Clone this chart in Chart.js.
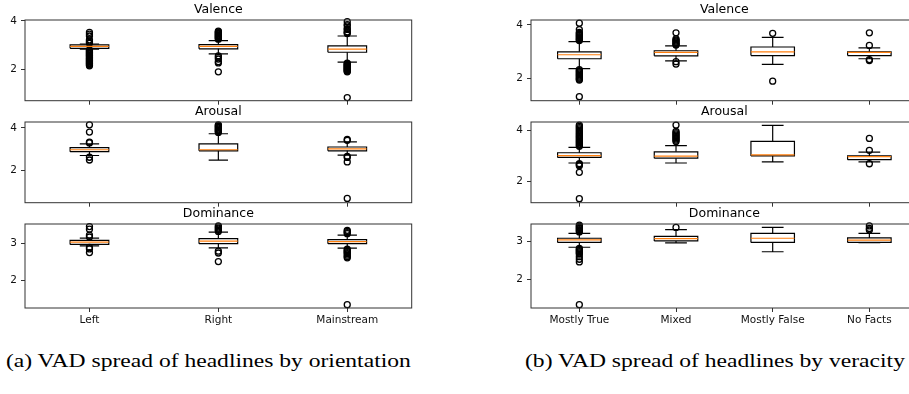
<!DOCTYPE html>
<html>
<head>
<meta charset="utf-8">
<script src="https://cdn.jsdelivr.net/npm/chart.js@4.4.0/dist/chart.umd.min.js"></script>
<style>
  body { margin: 0; background: #fff; }
  #fig { position: relative; width: 909px; height: 394px; overflow: hidden; background: #fff; }
  #fig canvas { position: absolute; }
  .cap { position: absolute; top: 351px; font-family: "Liberation Serif", "Times New Roman", serif; font-size: 19px; line-height: 19px; color: #000; white-space: nowrap; transform: scaleX(1.24); transform-origin: left center; }
</style>
</head>
<body>
<div id="fig">
  <div class="cap" style="left:6px">(a) VAD spread of headlines by orientation</div>
  <div class="cap" style="left:525px">(b) VAD spread of headlines by veracity</div>
</div>
<script>
// categories
const orientCats = ['Left', 'Right', 'Mainstream'];
const veracityCats = ['Mostly True', 'Mixed', 'Mostly False', 'No Facts'];

// y tick labels
const ticksVA = [2, 4];
const ticksD = [2, 3];

// box stats per category: [lower whisker, q1, median, q3, upper whisker]
const valenceOrient = [[2.84, 2.87, 2.95, 3.01, 3.05], [2.64, 2.85, 2.95, 3.02, 3.19], [2.30, 2.71, 2.84, 2.97, 3.38]];
const arousalOrient = [[2.71, 2.89, 2.98, 3.08, 3.26], [2.49, 2.93, 2.98, 3.26, 3.73], [2.73, 2.93, 3.02, 3.11, 3.35]];
const dominanceOrient = [[2.93, 2.97, 3.03, 3.08, 3.14], [2.88, 2.99, 3.06, 3.125, 3.30], [2.87, 2.99, 3.045, 3.10, 3.22]];

const valenceVerac = [[2.36, 2.73, 2.88, 2.99, 3.37], [2.65, 2.84, 2.97, 3.03, 3.21], [2.52, 2.85, 2.99, 3.17, 3.53], [2.73, 2.85, 2.97, 2.99, 3.14]];
const arousalVerac = [[2.72, 2.94, 3.01, 3.125, 3.34], [2.72, 2.91, 2.99, 3.16, 3.41], [2.76, 3.0, 3.04, 3.575, 4.21], [2.76, 2.85, 2.975, 3.0, 3.15]];
const dominanceVerac = [[2.85, 2.98, 3.045, 3.09, 3.22], [2.965, 3.02, 3.08, 3.14, 3.32], [2.73, 2.98, 3.09, 3.22, 3.38], [2.97, 2.98, 3.04, 3.10, 3.22]];

// outliers per category
const valenceOrientFliers = [
  [3.53, 3.46, 3.38, 3.22, 3.17, 3.12, 3.08, 2.81, 2.78, 2.75, 2.72, 2.69, 2.66, 2.63, 2.60, 2.57, 2.54, 2.51, 2.48, 2.45, 2.42, 2.39, 2.36, 2.33, 2.30, 2.27, 2.24, 2.21, 2.18, 2.15],
  [3.58, 3.55, 3.52, 3.49, 3.46, 3.43, 3.40, 3.37, 3.34, 3.31, 3.28, 3.25, 2.56, 2.50, 2.43, 2.32, 2.27, 1.90],
  [3.97, 3.85, 3.80, 3.68, 3.65, 3.55, 3.52, 3.48, 2.26, 2.23, 2.20, 2.17, 2.14, 2.11, 2.08, 2.05, 2.02, 1.99, 1.96, 1.93, 1.90, 0.84]
];
const arousalOrientFliers = [
  [4.15, 3.81, 3.34, 3.30, 2.63, 2.50],
  [4.15, 4.11, 4.07, 4.03, 3.99, 3.95, 3.91, 3.87, 3.83, 3.79],
  [3.46, 3.42, 2.67, 2.62, 2.41, 0.70]
];
const dominanceOrientFliers = [
  [3.45, 3.38, 3.22, 3.17, 2.89, 2.85, 2.75],
  [3.47, 3.44, 3.41, 3.38, 3.35, 3.32, 2.79, 2.74, 2.51],
  [3.35, 3.32, 3.29, 3.26, 2.84, 2.81, 2.78, 2.75, 2.72, 2.68, 2.64, 2.61, 1.35]
];
const valenceVeracFliers = [
  [4.06, 3.82, 3.72, 3.68, 3.64, 3.60, 3.56, 3.52, 3.48, 3.44, 3.41, 2.32, 2.28, 2.24, 2.20, 2.16, 2.12, 2.08, 2.04, 2.00, 1.96, 1.93, 1.31],
  [3.70, 3.47, 3.43, 3.39, 3.35, 3.31, 3.27, 3.24, 2.62, 2.53],
  [3.68, 1.89],
  [3.70, 3.23, 2.70, 2.66]
];
const arousalVeracFliers = [
  [4.22, 4.17, 4.12, 4.07, 4.02, 3.97, 3.92, 3.87, 3.82, 3.77, 3.72, 3.67, 3.62, 3.57, 3.52, 3.47, 3.42, 3.38, 2.69, 2.65, 2.61, 2.35, 1.31],
  [4.22, 3.97, 3.92, 3.87, 3.82, 3.77, 3.72, 3.67, 3.62, 3.57],
  [],
  [3.69, 3.22, 2.69]
];
const dominanceVeracFliers = [
  [3.44, 3.41, 3.38, 3.35, 3.32, 3.29, 3.26, 2.82, 2.79, 2.76, 2.73, 2.70, 2.67, 2.60, 2.53, 2.46, 1.32],
  [3.38],
  [],
  [3.42, 3.35, 3.31]
];

const panels = [
  { left: 0, top: 2, w: 417, h: 109, yW: 25, xH: 6, title: 'Valence', cats: orientCats, boxes: valenceOrient, fliers: valenceOrientFliers, yMin: 0.71, yMax: 4.04, yTicks: ticksVA, half: 0.15 },
  { left: 0, top: 104, w: 417, h: 109, yW: 25, xH: 6, title: 'Arousal', cats: orientCats, boxes: arousalOrient, fliers: arousalOrientFliers, yMin: 0.5, yMax: 4.28, yTicks: ticksVA, half: 0.15 },
  { left: 0, top: 206, w: 417, h: 132, yW: 25, xH: 30, title: 'Dominance', cats: orientCats, boxes: dominanceOrient, fliers: dominanceOrientFliers, yMin: 1.26, yMax: 3.52, yTicks: ticksD, half: 0.15, showX: true },
  { left: 491, top: 2, w: 432, h: 109, yW: 40, xH: 6, title: 'Valence', cats: veracityCats, boxes: valenceVerac, fliers: valenceVeracFliers, yMin: 1.16, yMax: 4.18, yTicks: ticksVA, half: 0.225 },
  { left: 491, top: 104, w: 432, h: 109, yW: 40, xH: 6, title: 'Arousal', cats: veracityCats, boxes: arousalVerac, fliers: arousalVeracFliers, yMin: 1.15, yMax: 4.34, yTicks: ticksVA, half: 0.225 },
  { left: 491, top: 206, w: 432, h: 132, yW: 40, xH: 30, title: 'Dominance', cats: veracityCats, boxes: dominanceVerac, fliers: dominanceVeracFliers, yMin: 1.23, yMax: 3.47, yTicks: ticksD, half: 0.225, showX: true }
];

const font = { family: 'DejaVu Sans', size: 10.5 };

// axes frame on all four sides
const framePlugin = {
  id: 'frame',
  afterDatasetsDraw(chart) {
    const { ctx, chartArea: a } = chart;
    ctx.save();
    ctx.strokeStyle = '#333';
    ctx.lineWidth = 1;
    ctx.strokeRect(a.left, a.top, a.right - a.left, a.bottom - a.top);
    ctx.restore();
  }
};

function lineSet(data, color) {
  return {
    data, borderColor: color, borderWidth: 1.2, pointRadius: 0, tension: 0,
    spanGaps: false, fill: false, borderCapStyle: 'butt'
  };
}

function makeChart(p) {
  const fig = document.getElementById('fig');
  const cv = document.createElement('canvas');
  cv.width = p.w; cv.height = p.h;
  cv.style.left = p.left + 'px';
  cv.style.top = p.top + 'px';
  fig.appendChild(cv);

  const n = p.cats.length;
  const hw = p.half, cw = p.half / 2;
  const boxPts = [], whiskPts = [], medPts = [], flierPts = [];
  p.boxes.forEach(([lo, q1, med, q3, hi], i) => {
    const x = i + 1;
    const gap = () => ({ x, y: null });
    boxPts.push({ x: x - hw, y: q1 }, { x: x + hw, y: q1 }, { x: x + hw, y: q3 }, { x: x - hw, y: q3 }, { x: x - hw, y: q1 }, gap());
    whiskPts.push({ x, y: q1 }, { x, y: lo }, gap(), { x, y: q3 }, { x, y: hi }, gap(),
      { x: x - cw, y: lo }, { x: x + cw, y: lo }, gap(), { x: x - cw, y: hi }, { x: x + cw, y: hi }, gap());
    medPts.push({ x: x - hw, y: med }, { x: x + hw, y: med }, gap());
    p.fliers[i].forEach(v => flierPts.push({ x, y: v }));
  });

  new Chart(cv, {
    type: 'line',
    data: {
      datasets: [
        lineSet(medPts, '#ff7f0e'),
        {
          data: flierPts, showLine: false, pointRadius: 3, pointBorderWidth: 1.3,
          pointBorderColor: '#000', pointBackgroundColor: 'rgba(0,0,0,0)', clip: false
        },
        lineSet(boxPts, '#000'),
        lineSet(whiskPts, '#000')
      ]
    },
    options: {
      responsive: false,
      animation: false,
      events: [],
      layout: { padding: { left: 0, right: 4, top: 0, bottom: 0 } },
      plugins: {
        legend: { display: false },
        tooltip: { enabled: false },
        title: {
          display: true, text: p.title, fullSize: false, color: '#000',
          font: { family: 'DejaVu Sans', size: 12.5, weight: 'normal', lineHeight: 1.2 },
          padding: { top: 0, bottom: 3 }
        }
      },
      scales: {
        x: {
          type: 'linear', min: 0.5, max: n + 0.5,
          afterBuildTicks: s => { s.ticks = p.cats.map((c, i) => ({ value: i + 1 })); },
          afterFit: s => { s.height = p.xH; },
          ticks: {
            color: '#111', font, padding: 2, maxRotation: 0, minRotation: 0, autoSkip: false,
            callback: v => (p.showX ? p.cats[v - 1] : '')
          },
          grid: { drawOnChartArea: false, drawTicks: true, tickLength: 4, color: '#333' },
          border: { display: false }
        },
        y: {
          type: 'linear', min: p.yMin, max: p.yMax,
          afterBuildTicks: s => { s.ticks = p.yTicks.map(v => ({ value: v })); },
          afterFit: s => { s.width = p.yW; },
          ticks: { color: '#111', font, padding: 4, callback: v => String(v) },
          grid: { drawOnChartArea: false, drawTicks: true, tickLength: 4, color: '#333' },
          border: { display: false }
        }
      }
    },
    plugins: [framePlugin]
  });
}

panels.forEach(makeChart);
</script>
</body>
</html>
